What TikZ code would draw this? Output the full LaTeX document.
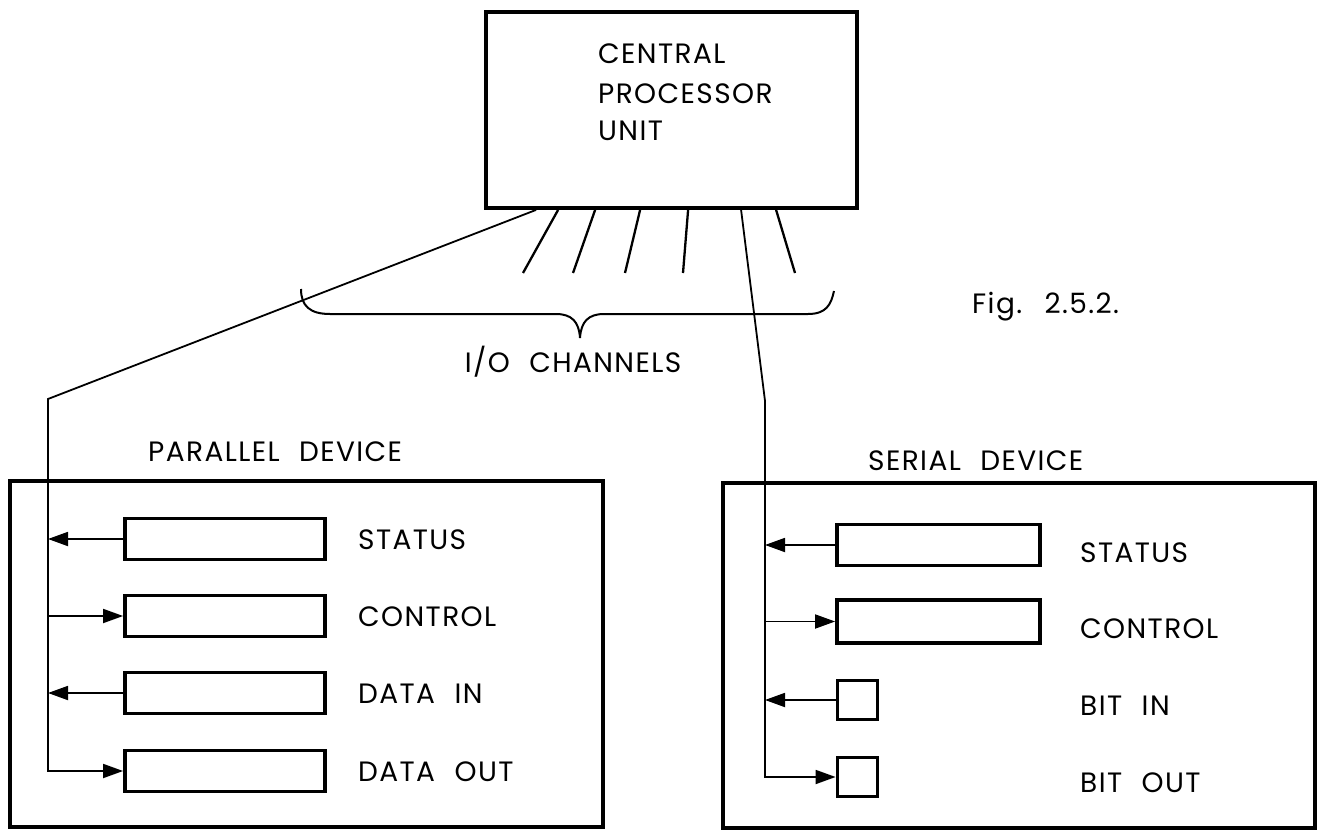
\documentclass[tikz,border=0pt]{standalone}
\usepackage{fontspec}
\setmainfont{Poppins}[LetterSpace=5, WordSpace=2.2]
\usetikzlibrary{calc,arrows.meta}
\tikzset{
  box/.style={draw, line width=3.8pt, inner sep=0pt},
  reg/.style={draw, line width=3.8pt, inner sep=0pt, minimum height=41pt},
  widereg/.style={reg, minimum width=200pt},
  bitreg/.style={reg, minimum width=40pt, minimum height=39pt},
  lbl/.style={anchor=base west, inner sep=0pt, font=\fontsize{28}{34}\selectfont},
  wire/.style={line width=1.8pt, line join=miter},
  stub/.style={line width=2.3pt},
  arr/.style={wire, -{Triangle[length=20pt,width=14pt]}},
}
\begin{document}
\begin{tikzpicture}[x=1pt,y=-1pt]
\useasboundingbox (0,0) rectangle (1323,832);

% CPU
\node[box, minimum width=371pt, minimum height=196pt] (cpu) at (671.5,110) {};
\node[lbl] (cpua) at (598,64) {CENTRAL};
\node[lbl] (cpub) at (598,104) {PROCESSOR};
\node[lbl] (cpuc) at (598,141) {UNIT};

% channel stubs
\coordinate (ch1) at (523,273);
\coordinate (ch2) at (573,273);
\coordinate (ch3) at (625,273);
\coordinate (ch4) at (683,273);
\coordinate (ch5) at (795,273);
\draw[stub] ($(cpu.south west)+(74,0)$) -- (ch1);
\draw[stub] ($(cpu.south west)+(111,0)$) -- (ch2);
\draw[stub] ($(cpu.south west)+(156,0)$) -- (ch3);
\draw[stub] ($(cpu.south west)+(204,0)$) -- (ch4);
\draw[stub] ($(cpu.south west)+(292,0)$) -- (ch5);

% brace
\draw[line width=2pt] (301,289) .. controls (301,306) and (310,314) .. (330,314)
  -- (556,314) .. controls (572,314) and (579,322) .. (580,338)
  .. controls (581,322) and (588,314) .. (604,314)
  -- (808,314) .. controls (826,314) and (831,305) .. (834,291);
\node[lbl, anchor=base] (io) at (573,372) {I/O CHANNELS};

\node[lbl] (fig) at (972,313) {Fig. 2.5.2.};

% parallel device
\node[box, minimum width=593pt, minimum height=346pt] (par) at (306.5,654) {};
\node[lbl] (parl) at (148,461) {PARALLEL DEVICE};
\node[widereg] (pst) at (225,539) {};
\node[widereg] (pct) at (225,616) {};
\node[widereg] (pdi) at (225,693) {};
\node[widereg] (pdo) at (225,771) {};
\node[lbl] (lpst) at (358,549) {STATUS};
\node[lbl] (lpct) at (358,626) {CONTROL};
\node[lbl] (lpdi) at (358,703) {DATA IN};
\node[lbl] (lpdo) at (358,781) {DATA OUT};

% serial device
\node[box, minimum width=592pt, minimum height=345pt] (ser) at (1019,655.5) {};
\node[lbl] (serl) at (868,470) {SERIAL DEVICE};
\node[widereg, minimum width=203pt, minimum height=41pt] (sst) at (938.5,545) {};
\node[widereg, minimum width=203pt, minimum height=43pt] (sct) at (938.5,621.5) {};
\node[bitreg] (sbi) at (857.5,700) {};
\node[bitreg] (sbo) at (857.5,777) {};
\node[lbl] (lsst) at (1080,562) {STATUS};
\node[lbl] (lsct) at (1080,638) {CONTROL};
\node[lbl] (lsbi) at (1080,715) {BIT IN};
\node[lbl] (lsbo) at (1080,792) {BIT OUT};

% left bus
\coordinate (pk) at (48,399);
\draw[arr] ($(cpu.south west)+(52,0)$) -- (pk) |- (pdo.west);
\draw[arr] (pst.west) -- (pst.west -| pk);
\draw[arr] (pk |- pct.west) -- (pct.west);
\draw[arr] (pdi.west) -- (pdi.west -| pk);

% right bus
\coordinate (sk) at (765,401);
\draw[arr] ($(cpu.south west)+(257,0)$) -- (sk) |- (sbo.west);
\draw[arr] (sst.west) -- (sst.west -| sk);
\draw[arr] (sk |- sct.west) -- (sct.west);
\draw[arr] (sbi.west) -- (sbi.west -| sk);
\end{tikzpicture}
\end{document}
